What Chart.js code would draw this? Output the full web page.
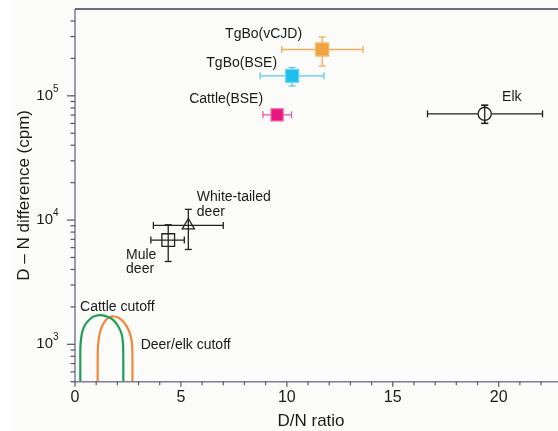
<!DOCTYPE html>
<html>
<head>
<meta charset="utf-8">
<script src="https://cdn.jsdelivr.net/npm/chart.js@4/dist/chart.umd.min.js"></script>
<style>
html, body { margin: 0; padding: 0; background: #fff; }
#wrap { width: 558px; height: 431px; }
</style>
</head>
<body>
<div id="wrap"><canvas id="chart" width="558" height="431"></canvas></div>
<script>

/*  Data  */

const groups     = ["TgBo(vCJD)", "TgBo(BSE)", "Cattle(BSE)", "Elk", "White-tailed deer", "Mule deer"];
const ratio      = [11.67, 10.25, 9.54, 19.34, 5.35, 4.40];
const ratioLow   = [9.76, 8.74, 8.87, 16.64, 3.70, 3.58];
const ratioHigh  = [13.60, 11.75, 10.22, 22.07, 7.00, 5.16];
const diff       = [236000, 145000, 70300, 71600, 9050, 6900];
const diffLow    = [174000, 120000, 66000, 60000, 5800, 4640];
const diffHigh   = [298000, 169000, 74500, 84000, 12200, 9170];

// cutoff outlines
const cattleCutX = [0.25, 0.25, 0.26, 0.33, 0.47, 0.71, 0.94, 1.23, 1.51, 1.80, 2.03, 2.20, 2.27, 2.28];
const cattleCutY = [450, 748, 990, 1233, 1429, 1599, 1691, 1720, 1675, 1571, 1403, 1210, 990, 450];
const deerCutX   = [1.07, 1.07, 1.09, 1.16, 1.28, 1.46, 1.65, 1.84, 2.08, 2.31, 2.53, 2.67, 2.71, 2.71];
const deerCutY   = [450, 748, 990, 1210, 1403, 1571, 1658, 1675, 1628, 1497, 1303, 1083, 820, 450];

const xTicks      = [0, 5, 10, 15, 20];
const yMajorTicks = [1000, 10000, 100000];
const yMinorTicks = [500, 600, 700, 800, 900, 2000, 3000, 4000, 5000, 6000, 7000, 8000, 9000,
                     20000, 30000, 40000, 50000, 60000, 70000, 80000, 90000,
                     200000, 300000, 400000];

// text notes: [text, x, y, align]
const notes = [
    ["TgBo(vCJD)", 10.72, 313000, "right"],
    ["TgBo(BSE)", 9.54, 183000, "right"],
    ["Cattle(BSE)", 8.88, 94600, "right"],
    ["Elk", 20.16, 97600, "left"],
    ["White-tailed", 5.75, 15400, "left"],
    ["deer", 5.75, 11660, "left"],
    ["Mule", 2.41, 5260, "left"],
    ["deer", 2.41, 4055, "left"],
    ["Cattle cutoff", 0.24, 2006, "left"],
    ["Deer/elk cutoff", 3.10, 987, "left"]
];


/*  Styles  */

const BG = "#fbfbf9";
const FONT = "'Liberation Sans', Arial, sans-serif";
const markerFill   = ["#f0a33e", "#1cbfee", "#e8177f", BG, "transparent", "transparent"];
const markerBorder = ["#f5b86c", "#6fd3f5", "#ef4f9b", "#222", "#222", "#222"];
const markerStyle  = ["rect", "rect", "rect", "circle", "triangle", "rect"];
const markerRadius = [9.2, 9.2, 8.4, 6.6, 7, 9];
const barColor     = ["#f2ab5a", "#58c9f1", "#ec5aa0", "#222", "#222", "#222"];


/*  Plugin : fond, axes, barres d'erreur, textes  */

function line(ctx, x1, y1, x2, y2) {
    ctx.beginPath(); ctx.moveTo(x1, y1); ctx.lineTo(x2, y2); ctx.stroke();
}

function yBar(chart, i) {
    const ctx = chart.ctx, xs = chart.scales.x, ys = chart.scales.y;
    const x = xs.getPixelForValue(ratio[i]);
    const y1 = ys.getPixelForValue(diffLow[i]), y2 = ys.getPixelForValue(diffHigh[i]);
    ctx.strokeStyle = barColor[i];
    line(ctx, x, y1, x, y2);
    line(ctx, x - 3.5, y1, x + 3.5, y1);
    line(ctx, x - 3.5, y2, x + 3.5, y2);
}

const decor = {
    id: "decor",
    beforeDraw(chart) {
        const ctx = chart.ctx;
        ctx.save();
        ctx.fillStyle = BG;
        ctx.fillRect(12, 0, chart.width - 12, chart.height);
        ctx.restore();
    },
    beforeDatasetsDraw(chart) {
        // error bars under the markers
        const ctx = chart.ctx, xs = chart.scales.x, ys = chart.scales.y;
        ctx.save();
        ctx.lineWidth = 1.3;
        groups.forEach((g, i) => {
            const y = ys.getPixelForValue(diff[i]);
            const x1 = xs.getPixelForValue(ratioLow[i]), x2 = xs.getPixelForValue(ratioHigh[i]);
            ctx.strokeStyle = barColor[i];
            line(ctx, x1, y, x2, y);
            line(ctx, x1, y - 3.5, x1, y + 3.5);
            line(ctx, x2, y - 3.5, x2, y + 3.5);
            yBar(chart, i);
        });
        ctx.restore();
    },
    afterDatasetsDraw(chart) {
        const ctx = chart.ctx, xs = chart.scales.x, ys = chart.scales.y, a = chart.chartArea;
        ctx.save();

        // the elk circle is filled, its vertical bar goes on top
        ctx.lineWidth = 1.3;
        groups.forEach((g, i) => { if (markerFill[i] == BG) yBar(chart, i); });

        // axes
        ctx.lineWidth = 1.5;
        ctx.strokeStyle = "#7c7c9c";
        line(ctx, a.left, a.top, a.left, a.bottom + 0.5);
        line(ctx, a.left, a.bottom, a.right, a.bottom);
        ctx.strokeStyle = "#3c3c52";
        line(ctx, a.left, a.top, a.right, a.top);

        ctx.lineWidth = 1.2;
        ctx.strokeStyle = "#55556e";
        yMajorTicks.forEach(v => { const y = ys.getPixelForValue(v); line(ctx, a.left - 8, y, a.left, y); });
        yMinorTicks.forEach(v => { const y = ys.getPixelForValue(v); line(ctx, a.left - 4.5, y, a.left, y); });
        for (let v = 0; v <= 22; v++) {
            const x = xs.getPixelForValue(v);
            line(ctx, x, a.bottom, x, a.bottom + (v % 5 == 0 ? 5 : 3.5));
        }

        // tick labels
        ctx.fillStyle = "#1a1a1a";
        ctx.textBaseline = "middle";
        ctx.textAlign = "center";
        ctx.font = "16px " + FONT;
        xTicks.forEach(v => ctx.fillText(String(v), xs.getPixelForValue(v), a.bottom + 16));

        yMajorTicks.forEach(v => {
            const y = ys.getPixelForValue(v);
            const exp = String(Math.round(Math.log10(v)));
            ctx.textAlign = "left";
            ctx.font = "10px " + FONT;
            ctx.fillText(exp, a.left - 22, y - 7);
            ctx.textAlign = "right";
            ctx.font = "15px " + FONT;
            ctx.fillText("10", a.left - 22, y);
        });

        // axis titles
        ctx.textAlign = "center";
        ctx.font = "17px " + FONT;
        ctx.fillText("D/N ratio", 311, 421);
        ctx.save();
        ctx.translate(24, (a.top + a.bottom) / 2);
        ctx.rotate(-Math.PI / 2);
        ctx.fillText("D \u2013 N difference (cpm)", 0, 0);
        ctx.restore();

        // notes
        ctx.font = "14px " + FONT;
        notes.forEach(n => {
            ctx.textAlign = n[3];
            ctx.fillText(n[0], xs.getPixelForValue(n[1]), ys.getPixelForValue(n[2]));
        });

        ctx.restore();
    }
};


/*  Graphique  */

const pts = ratio.map((r, i) => ({ x: r, y: diff[i] }));
const toXY = (xs, ys) => xs.map((x, i) => ({ x, y: ys[i] }));

new Chart(document.getElementById("chart"), {
    type: "scatter",
    data: {
        datasets: [
            {
                label: "Cattle cutoff",
                data: toXY(cattleCutX, cattleCutY),
                showLine: true,
                borderColor: "#1f9e58",
                borderWidth: 2.2,
                pointRadius: 0,
                tension: 0.35
            },
            {
                label: "Deer/elk cutoff",
                data: toXY(deerCutX, deerCutY),
                showLine: true,
                borderColor: "#f0883a",
                borderWidth: 2.2,
                pointRadius: 0,
                tension: 0.35
            },
            {
                label: "Samples",
                data: pts,
                pointStyle: markerStyle,
                pointRadius: markerRadius,
                backgroundColor: markerFill,
                borderColor: markerBorder,
                borderWidth: 1.3
            }
        ]
    },
    options: {
        responsive: false,
        animation: false,
        layout: { autoPadding: false, padding: { top: 9, left: 0, right: 0, bottom: 0 } },
        plugins: {
            legend: { display: false },
            tooltip: { enabled: false }
        },
        scales: {
            x: {
                type: "linear",
                min: 0,
                max: 22.8,
                grid: { display: false },
                border: { display: false },
                ticks: { display: false },
                afterFit: s => { s.height = 49.3; }
            },
            y: {
                type: "logarithmic",
                min: 500,
                max: 500000,
                grid: { display: false },
                border: { display: false },
                ticks: { display: false },
                afterFit: s => { s.width = 75; }
            }
        }
    },
    plugins: [decor]
});
</script>
</body>
</html>
